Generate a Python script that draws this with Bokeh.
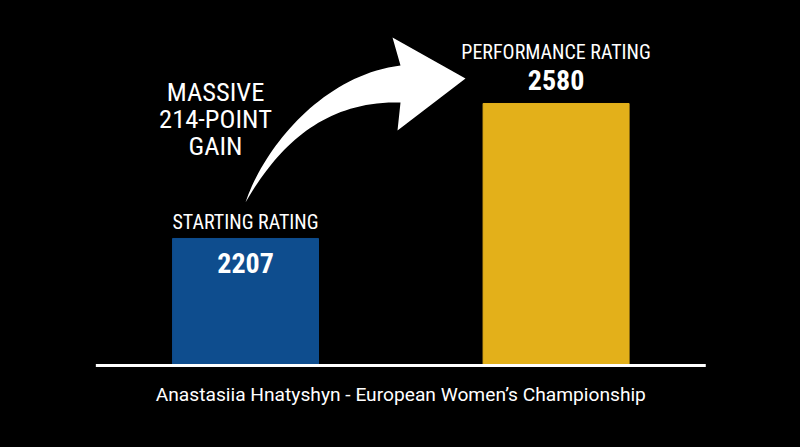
import numpy as np
from bokeh.plotting import figure
from bokeh.models import Range1d, Label, ColumnDataSource
from bokeh.embed import file_html
from bokeh.resources import INLINE

# ---- data ----
categories = ["STARTING RATING", "PERFORMANCE RATING"]
ratings = [2207, 2580]
bar_colors = ["#0E4D8E", "#E3B01A"]
gain_text = ["MASSIVE", "214-POINT", "GAIN"]
caption = "Anastasiia Hnatyshyn - European Women\u2019s Championship"

# ---- layout ----
W, H = 800, 447
XR = (-0.789, 1.787)
YR = (1629.4, 2864.6)
BASE = 1856  # value at the baseline (axis floor)

COND = "'Roboto Condensed', 'Liberation Sans Narrow', Roboto"
REG = "Roboto"

p = figure(width=W, height=H, x_range=Range1d(*XR), y_range=Range1d(*YR),
           output_backend="svg", toolbar_location=None, min_border=0,
           background_fill_color="black", border_fill_color="black")
p.axis.visible = False
p.grid.visible = False
p.outline_line_color = None

xs = list(range(len(categories)))
src = ColumnDataSource(dict(x=xs, top=ratings, color=bar_colors))
p.vbar(x="x", top="top", bottom=BASE, width=0.47, color="color", source=src)

# baseline
p.segment(x0=[0.5 - 0.982], x1=[0.5 + 0.982], y0=[BASE], y1=[BASE],
          line_color="white", line_width=3)


def px_x(px):
    return XR[0] + px / W * (XR[1] - XR[0])


def px_y(py):
    return YR[1] - py / H * (YR[1] - YR[0])


# category labels and values
offs_cat = [16, 51]
offs_val = [-25, 23]
for i, (cat, r) in enumerate(zip(categories, ratings)):
    p.add_layout(Label(x=i, y=r, y_offset=offs_cat[i], text=cat,
                       text_align="center", text_baseline="middle",
                       text_color="white", text_font=COND,
                       text_font_size="20px"))
    p.add_layout(Label(x=i, y=r, y_offset=offs_val[i], text=str(r),
                       text_align="center", text_baseline="middle",
                       text_color="white", text_font=COND,
                       text_font_style="bold", text_font_size="28px"))

# gain annotation text
for j, t in enumerate(gain_text):
    p.add_layout(Label(x=px_x(215), y=px_y(91 + 27 * j), text=t,
                       text_align="center", text_baseline="middle",
                       text_color="white", text_font=COND,
                       text_font_size="26.5px"))

# caption
p.add_layout(Label(x=0.5, y=BASE, y_offset=-29, text=caption,
                   text_align="center", text_baseline="middle",
                   text_color="white", text_font=REG,
                   text_font_size="19.2px"))


# curved arrow
def bez(p0, p1, p2, p3, n=40):
    t = np.linspace(0, 1, n)[:, None]
    P = ((1 - t) ** 3) * np.array(p0) + 3 * ((1 - t) ** 2) * t * np.array(p1) \
        + 3 * (1 - t) * t ** 2 * np.array(p2) + t ** 3 * np.array(p3)
    return P


upper = bez((245, 202), (262, 150), (320, 75), (400, 65))
lower = bez((245, 202), (275, 150), (320, 100), (400, 102))
head = [(400, 65), (392, 37), (465, 78), (397, 130), (400, 102)]
pts = list(map(tuple, upper)) + head[1:4] + list(map(tuple, lower[::-1]))
ax = [px_x(a) for a, b in pts]
ay = [px_y(b) for a, b in pts]
p.patch(ax, ay, color="white", line_width=0)

html = file_html(p, INLINE)
html = html.replace("<body>", '<body style="background:#000000;">')
open("out.html", "w").write(html)
